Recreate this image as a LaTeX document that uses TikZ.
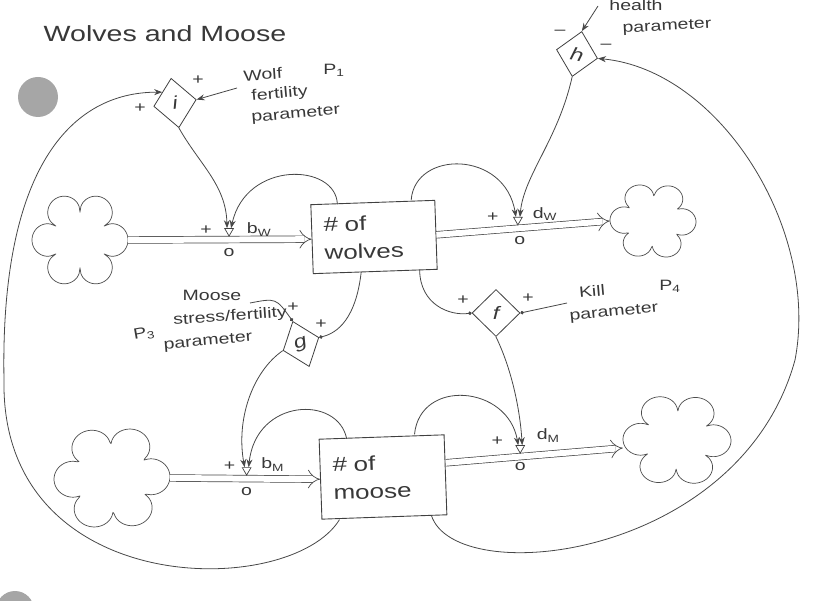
\documentclass[tikz,border=0pt]{standalone}
\usepackage{fontspec}
\setmainfont[FakeStretch=1.3]{Liberation Sans}
\usetikzlibrary{shapes.geometric,arrows.meta}
\newcommand\flowercloud[4]{%
  \draw[cloudline, shift={(#1.center)}] plot[domain=0:360, samples=241]
    ({#2*cos(\x)*(0.58+0.42*sqrt(abs(sin(3*\x+#4))))},
     {#3*sin(\x)*(0.58+0.42*sqrt(abs(sin(3*\x+#4))))});}
\begin{document}
\begin{tikzpicture}[x=1pt,y=-1pt,
  every node/.style={text=black!78},
  ink/.style={draw=black!72, line width=0.8pt},
  link/.style={ink, -{Stealth[length=8pt,width=6pt]}},
  dotlink/.style={ink, -{Circle[length=3.5pt]}},
  pipe/.style={draw=black!72, line width=0.7pt, double=white, double distance=6pt, -{Implies}},
  stockbox/.style={draw=black!75, line width=0.9pt, inner sep=0pt, text width=100pt, align=left, font=\fontsize{20}{28}\selectfont},
  conv/.style={diamond, draw=black!75, line width=0.8pt, inner sep=0pt, font=\fontsize{18}{18}\selectfont\itshape},
  sinkspot/.style={ellipse, draw=none, inner sep=0pt},
  cloudline/.style={draw=black!70, line width=0.7pt, line join=round},
  valvetri/.style={regular polygon, regular polygon sides=3, shape border rotate=180, draw=black!75, line width=0.7pt, inner sep=0pt, minimum size=10pt},
  lbl/.style={font=\fontsize{15}{20}\selectfont, align=left},
  sgn/.style={font=\fontsize{15}{15}\selectfont},
  hole/.style={fill=black!35, draw=none}
]
\useasboundingbox (0,0) rectangle (824,601);

% punch holes
\fill[hole] (38,97) circle[radius=20];
\fill[hole] (15,610) circle[radius=19];

% title
\node[font=\fontsize{22}{22}\selectfont] (title) at (165,34) {Wolves and Moose};

% stocks
\node[stockbox, minimum width=124pt, minimum height=69pt, rotate=2] (wolves) at (374,237) {\# of\\wolves};
\node[stockbox, minimum width=125pt, minimum height=80pt, rotate=2] (moose) at (383,477) {\# of\\moose};

% clouds
\node[sinkspot, minimum width=96pt, minimum height=96pt] (cWL) at (80,240) {};
\node[sinkspot, minimum width=86pt, minimum height=78pt] (cWR) at (653,221) {};
\node[sinkspot, minimum width=116pt, minimum height=106pt] (cML) at (112,478) {};
\node[sinkspot, minimum width=108pt, minimum height=94pt] (cMR) at (677,440) {};
\flowercloud{cWL}{48}{48}{90}
\flowercloud{cWR}{43}{39}{84}
\flowercloud{cML}{58}{53}{96}
\flowercloud{cMR}{54}{47}{86}

% pipes
\draw[pipe] (cWL.east) -- (wolves.west) coordinate[pos=0.55] (vWb);
\draw[pipe] (wolves.east) -- (cWR.west) coordinate[pos=0.47] (vWd);
\draw[pipe] (cML.east) -- (moose.west) coordinate[pos=0.51] (vMb);
\draw[pipe] ([yshift=12pt]moose.east) -- ([yshift=-8pt]cMR.west) coordinate[pos=0.42] (vMd);

% valves
\node[valvetri] (bW) at ([yshift=8.5pt]vWb) {};
\node[valvetri] (dW) at ([yshift=8.5pt]vWd) {};
\node[valvetri] (bM) at ([yshift=8.5pt]vMb) {};
\node[valvetri] (dM) at ([yshift=8.5pt]vMd) {};

\node[sgn] (bWp) at ([xshift=-23pt,yshift=9pt]vWb) {+};
\node[lbl] (bWl) at ([xshift=30pt,yshift=10pt]vWb) {b\textsubscript{W}};
\node[lbl] (bWo) at ([yshift=-13pt]vWb) {o};

\node[sgn] (dWp) at ([xshift=-25pt,yshift=11pt]vWd) {+};
\node[lbl] (dWl) at ([xshift=27pt,yshift=14pt]vWd) {d\textsubscript{W}};
\node[lbl] (dWo) at ([xshift=2pt,yshift=-12pt]vWd) {o};

\node[sgn] (bMp) at ([xshift=-17pt,yshift=12pt]vMb) {+};
\node[lbl] (bMl) at ([xshift=26pt,yshift=14pt]vMb) {b\textsubscript{M}};
\node[lbl] (bMo) at ([yshift=-13pt]vMb) {o};

\node[sgn] (dMp) at ([xshift=-23pt,yshift=15pt]vMd) {+};
\node[lbl] (dMl) at ([xshift=28pt,yshift=21pt]vMd) {d\textsubscript{M}};
\node[lbl] (dMo) at ([yshift=-10pt]vMd) {o};

% converters
\node[conv, minimum width=43pt, minimum height=50pt, rotate=9] (i) at (175,103) {i};
\node[conv, minimum width=42pt, minimum height=46pt, rotate=-12] (h) at (577,54) {h};
\node[conv, minimum width=38pt, minimum height=48pt, rotate=20] (g) at (301,344) {g};
\node[conv, minimum width=48pt, minimum height=47pt] (f) at (496,313) {f};

% converter polarities
\node[sgn] (ip1) at (140,108) {+};
\node[sgn] (ip2) at (198,80) {+};
\node[sgn] (hm1) at (560,32) {–};
\node[sgn] (hm2) at (606,46) {–};
\node[sgn] (gp1) at (293,307) {+};
\node[sgn] (gp2) at (321,324) {+};
\node[sgn] (fp1) at (463,300) {+};
\node[sgn] (fp2) at (528,298) {+};

% parameter labels
\node[lbl, rotate=4, anchor=west] (wf1) at (240,76) {Wolf};
\node[lbl, rotate=5, anchor=west] (wf2) at (248,97) {fertility};
\node[lbl, rotate=5, anchor=west] (wf3) at (248,119) {parameter};
\node[lbl] (p1) at (334,70) {P\textsubscript{1}};
\node[lbl] (hp1) at (636,5) {health};
\node[lbl, rotate=3] (hp2) at (667,27) {parameter};
\node[lbl] (ms1) at (212,295) {Moose};
\node[lbl, rotate=4] (ms2) at (230,317) {stress/fertility};
\node[lbl, rotate=5] (ms3) at (208,342) {parameter};
\node[lbl, rotate=10] (p3) at (144,334) {P\textsubscript{3}};
\node[lbl, rotate=5] (kp1) at (592,291) {Kill};
\node[lbl, rotate=6] (kp2) at (614,313) {parameter};
\node[lbl] (p4) at (670,286) {P\textsubscript{4}};

% free ends and waypoints
\coordinate (wfpt) at (237,88);
\coordinate (hpt) at (598,6);
\coordinate (mst) at (250,303);
\coordinate (kpt) at (567,303);
\coordinate (lw) at (4,380);
\coordinate (rl) at (795,360);

% links
\draw[link] (wfpt) -- (i.east);
\draw[link] (hpt) -- (h.north);
\draw[link] ([xshift=18pt]moose.south west) .. controls (290,600) and (0,600) .. (lw) .. controls (0,170) and (70,92) .. (i.north west);
\draw[link] (i.south) .. controls (200,165) and (226,185) .. ([xshift=-2pt]bW.north);
\draw[link] ([xshift=27pt]wolves.north west) .. controls (336,163) and (246,160) .. ([xshift=2pt]bW.north);
\draw[link] ([xshift=-24pt]wolves.north east) .. controls (415,150) and (505,150) .. ([xshift=-2pt]dW.north);
\draw[link] (h.south) .. controls (558,140) and (524,175) .. ([xshift=2pt]dW.north);
\draw[link] ([xshift=-16pt]moose.south east) .. controls (455,590) and (740,560) .. (rl) .. controls (820,230) and (720,70) .. (h.east);
\draw[dotlink] ([xshift=-14pt]wolves.south) .. controls (356,318) and (338,333) .. (g.east);
\draw[dotlink] (mst) .. controls (276,298) .. (g.north);
\draw[link] (g.west) .. controls (252,372) and (236,420) .. ([xshift=-2pt]bM.north);
\draw[link] ([xshift=28pt]moose.north west) .. controls (338,395) and (256,398) .. ([xshift=2pt]bM.north);
\draw[link] ([xshift=-30pt]moose.north east) .. controls (420,378) and (508,385) .. ([xshift=-2pt]dM.north);
\draw[dotlink] ([xshift=-18pt]wolves.south east) .. controls (420,305) and (450,316) .. (f.west);
\draw[dotlink] (kpt) -- (f.east);
\draw[link] (f.south) .. controls (512,370) and (520,410) .. ([xshift=2pt]dM.north);
\end{tikzpicture}
\end{document}
